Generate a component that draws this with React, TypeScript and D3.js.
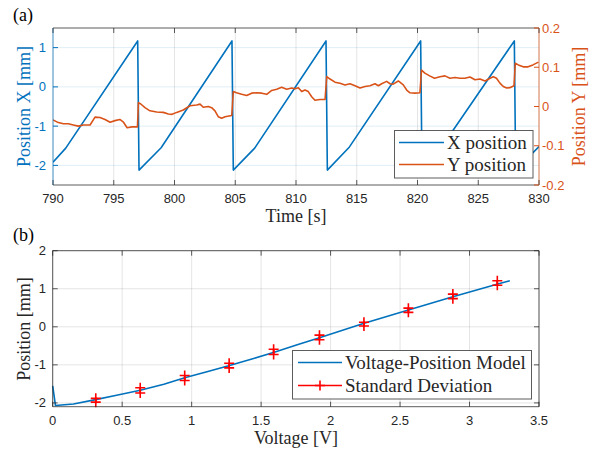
import React, { useRef, useEffect } from 'react';
import * as d3 from 'd3';

// ---- panel (a): time series
const timeTicks = [790, 795, 800, 805, 810, 815, 820, 825, 830];
const posXTicks = [-2, -1, 0, 1];
const posYTicks = [-0.2, -0.1, 0, 0.1, 0.2];

// X position: sawtooth vertices [s], [mm]
const xPosTime = [790, 791.05, 796.97, 797.08, 798.9, 804.73, 804.84, 806.6, 812.47, 812.58, 814.4, 820.26, 820.37, 821.9, 827.97, 828.08, 830];
const xPosValue = [-1.92, -1.56, 1.17, -2.12, -1.55, 1.17, -2.12, -1.56, 1.17, -2.12, -1.53, 1.17, -2.12, -1.57, 1.17, -2.12, -1.52];

// Y position [s], [mm]
const yPosTime = [
  790, 790.44, 790.85, 791.26, 791.67, 792.08, 792.5, 793.05, 793.46, 793.87, 794.28, 794.7, 795.1, 795.5, 795.8, 796.1, 796.5, 796.95,
  797.03, 797.2, 797.57, 797.98, 798.53, 799.08, 799.49, 799.8, 800.18, 800.72, 801.28, 801.82, 802.1, 802.37, 802.78, 803.06, 803.33, 803.6, 803.88, 804.16, 804.71,
  804.84, 805.1, 805.53, 805.94, 806.35, 806.76, 807.18, 807.59, 808.0, 808.41, 808.82, 809.23, 809.65, 809.92, 810.19, 810.47, 810.74, 811.01, 811.29, 811.56, 811.98, 812.39,
  812.53, 812.8, 813.21, 813.62, 814.03, 814.44, 814.86, 815.27, 815.68, 816.09, 816.5, 816.78, 817.05, 817.46, 817.74, 818.0, 818.42, 818.83, 819.11, 819.38, 819.8, 820.2,
  820.33, 820.6, 821.0, 821.4, 821.85, 822.26, 822.67, 823.09, 823.5, 823.9, 824.32, 824.73, 825.14, 825.56, 825.97, 826.24, 826.5, 826.8, 827.06, 827.34, 827.6, 827.94,
  828.05, 828.3, 828.7, 829.1, 829.5, 829.95,
];
const yPosValue = [
  -0.034, -0.041, -0.044, -0.044, -0.047, -0.05, -0.047, -0.047, -0.027, -0.028, -0.033, -0.04, -0.036, -0.033, -0.04, -0.054, -0.052, -0.052,
  0.01, 0.007, -0.003, -0.011, -0.014, -0.015, -0.019, -0.02, -0.015, -0.009, 0.002, 0.004, 0.006, -0.002, 0.0, -0.003, -0.011, -0.026, -0.03, -0.026, -0.023,
  0.038, 0.035, 0.031, 0.028, 0.034, 0.035, 0.034, 0.031, 0.041, 0.044, 0.049, 0.044, 0.047, 0.045, 0.048, 0.038, 0.042, 0.038, 0.025, 0.016, 0.018, 0.018,
  0.076, 0.07, 0.062, 0.059, 0.055, 0.058, 0.053, 0.047, 0.051, 0.053, 0.058, 0.053, 0.058, 0.064, 0.058, 0.057, 0.065, 0.055, 0.042, 0.035, 0.034, 0.035,
  0.093, 0.085, 0.078, 0.072, 0.076, 0.078, 0.072, 0.074, 0.072, 0.072, 0.075, 0.068, 0.07, 0.065, 0.072, 0.076, 0.072, 0.059, 0.051, 0.047, 0.048, 0.053,
  0.11, 0.106, 0.101, 0.101, 0.106, 0.113,
];

// ---- panel (b): voltage-position model
const voltTicks = [0, 0.5, 1, 1.5, 2, 2.5, 3, 3.5];
const posTicks = [-2, -1, 0, 1, 2];

const modelVoltage = [0, 0.02, 0.15, 0.3, 0.46, 0.63, 0.8, 0.95, 1.11, 1.26, 1.44, 1.6, 1.76, 1.92, 2.23, 2.56, 2.88, 3.21, 3.29];
const modelPosition = [-1.55, -2.07, -2.03, -1.92, -1.8, -1.67, -1.51, -1.34, -1.18, -1.03, -0.84, -0.66, -0.47, -0.29, 0.08, 0.44, 0.79, 1.13, 1.21];

const stdVoltage = [0.31, 0.63, 0.95, 1.27, 1.59, 1.92, 2.24, 2.56, 2.88, 3.2];
const stdUpper = [-1.88, -1.6, -1.28, -0.96, -0.59, -0.22, 0.12, 0.49, 0.86, 1.21];
const stdLower = [-1.98, -1.74, -1.41, -1.08, -0.73, -0.34, 0.02, 0.38, 0.74, 1.09];

const BLUE = '#0072BD';
const ORANGE = '#D95319';
const RED = '#FF0000';
const DARK = '#262626';
const SANS = '"Liberation Sans", Arial, Helvetica, sans-serif';
const SERIF = '"Liberation Serif", "Times New Roman", serif';

const App: React.FC = () => {
  const svgRef = useRef<SVGSVGElement | null>(null);

  useEffect(() => {
    if (!svgRef.current) return;
    const svg = d3.select(svgRef.current);
    svg.selectAll('*').remove();

    const fmt = (d: number) => String(d);

    // ================= panel (a) =================
    const a = { left: 53, right: 539, top: 28, bottom: 185 };
    const xT = d3.scaleLinear().domain([790, 830]).range([a.left, a.right]);
    const yL = d3.scaleLinear().domain([-2.5, 1.5]).range([a.bottom, a.top]);
    const yR = d3.scaleLinear().domain([-0.2, 0.2]).range([a.bottom, a.top]);

    const ga = svg.append('g');

    ga.append('rect')
      .attr('x', a.left).attr('y', a.top)
      .attr('width', a.right - a.left).attr('height', a.bottom - a.top)
      .attr('fill', '#fff');

    ga.selectAll('.vgrid')
      .data(timeTicks)
      .enter().append('line')
      .attr('x1', d => xT(d)).attr('x2', d => xT(d))
      .attr('y1', a.top).attr('y2', a.bottom)
      .attr('stroke', DARK).attr('stroke-opacity', 0.12).attr('stroke-width', 1);

    ga.selectAll('.hgrid')
      .data(posXTicks)
      .enter().append('line')
      .attr('x1', a.left).attr('x2', a.right)
      .attr('y1', d => yL(d)).attr('y2', d => yL(d))
      .attr('stroke', BLUE).attr('stroke-opacity', 0.12).attr('stroke-width', 1);

    const clipA = svg.append('clipPath').attr('id', 'clipA');
    clipA.append('rect')
      .attr('x', a.left).attr('y', a.top)
      .attr('width', a.right - a.left).attr('height', a.bottom - a.top);

    const lineX = d3.line<number>()
      .x((_, i) => xT(xPosTime[i]))
      .y(d => yL(d));
    ga.append('path')
      .datum(xPosValue)
      .attr('d', lineX)
      .attr('clip-path', 'url(#clipA)')
      .attr('fill', 'none').attr('stroke', BLUE).attr('stroke-width', 1.6)
      .attr('stroke-linejoin', 'round');

    const lineY = d3.line<number>()
      .x((_, i) => xT(yPosTime[i]))
      .y(d => yR(d));
    ga.append('path')
      .datum(yPosValue)
      .attr('d', lineY)
      .attr('clip-path', 'url(#clipA)')
      .attr('fill', 'none').attr('stroke', ORANGE).attr('stroke-width', 1.6)
      .attr('stroke-linejoin', 'round');

    // box
    ga.append('line').attr('x1', a.left).attr('x2', a.right).attr('y1', a.bottom).attr('y2', a.bottom)
      .attr('stroke', DARK).attr('stroke-opacity', 0.75);
    ga.append('line').attr('x1', a.left).attr('x2', a.right).attr('y1', a.top).attr('y2', a.top)
      .attr('stroke', DARK).attr('stroke-opacity', 0.75);
    ga.append('line').attr('x1', a.left).attr('x2', a.left).attr('y1', a.top).attr('y2', a.bottom)
      .attr('stroke', BLUE).attr('stroke-opacity', 0.7);
    ga.append('line').attr('x1', a.right).attr('x2', a.right).attr('y1', a.top).attr('y2', a.bottom)
      .attr('stroke', ORANGE).attr('stroke-opacity', 0.7);

    // x ticks
    timeTicks.forEach(t => {
      ga.append('line').attr('x1', xT(t)).attr('x2', xT(t)).attr('y1', a.bottom).attr('y2', a.bottom - 5)
        .attr('stroke', DARK).attr('stroke-opacity', 0.75);
      ga.append('line').attr('x1', xT(t)).attr('x2', xT(t)).attr('y1', a.top).attr('y2', a.top + 5)
        .attr('stroke', DARK).attr('stroke-opacity', 0.75);
    });
    ga.selectAll('.xlab')
      .data(timeTicks)
      .enter().append('text')
      .attr('x', d => xT(d)).attr('y', 203)
      .attr('text-anchor', 'middle')
      .attr('font-family', SANS).attr('font-size', 13).attr('fill', DARK)
      .text(fmt);

    // left ticks
    posXTicks.forEach(t => {
      ga.append('line').attr('x1', a.left).attr('x2', a.left + 5).attr('y1', yL(t)).attr('y2', yL(t))
        .attr('stroke', BLUE);
    });
    ga.selectAll('.ylab')
      .data(posXTicks)
      .enter().append('text')
      .attr('x', 46).attr('y', d => yL(d) + 4.5)
      .attr('text-anchor', 'end')
      .attr('font-family', SANS).attr('font-size', 13).attr('fill', BLUE)
      .text(fmt);

    // right ticks
    posYTicks.forEach(t => {
      ga.append('line').attr('x1', a.right).attr('x2', a.right - 5).attr('y1', yR(t)).attr('y2', yR(t))
        .attr('stroke', ORANGE);
    });
    ga.selectAll('.yrlab')
      .data(posYTicks)
      .enter().append('text')
      .attr('x', 542).attr('y', d => yR(d) + 4.5)
      .attr('text-anchor', 'start')
      .attr('font-family', SANS).attr('font-size', 13).attr('fill', ORANGE)
      .text(fmt);

    // labels
    ga.append('text')
      .attr('transform', 'translate(29.5,106.5) rotate(-90)')
      .attr('text-anchor', 'middle')
      .attr('font-family', SERIF).attr('font-size', 18).attr('fill', BLUE)
      .text('Position X [mm]');
    ga.append('text')
      .attr('transform', 'translate(584.5,106.5) rotate(-90)')
      .attr('text-anchor', 'middle')
      .attr('font-family', SERIF).attr('font-size', 18).attr('fill', ORANGE)
      .text('Position Y [mm]');
    ga.append('text')
      .attr('x', 296).attr('y', 222)
      .attr('text-anchor', 'middle')
      .attr('font-family', SERIF).attr('font-size', 18).attr('fill', DARK)
      .text('Time [s]');
    ga.append('text')
      .attr('x', 13).attr('y', 21)
      .attr('font-family', SERIF).attr('font-size', 18).attr('fill', '#000')
      .text('(a)');

    // legend (a)
    const la = ga.append('g');
    la.append('rect')
      .attr('x', 394.5).attr('y', 130.5).attr('width', 138.5).attr('height', 47.5)
      .attr('fill', '#fff').attr('stroke', DARK).attr('stroke-opacity', 0.75);
    [
      { label: 'X position', color: BLUE, y: 142.5 },
      { label: 'Y position', color: ORANGE, y: 164.5 },
    ].forEach(item => {
      la.append('line').attr('x1', 399).attr('x2', 444).attr('y1', item.y).attr('y2', item.y)
        .attr('stroke', item.color).attr('stroke-width', 1.6);
      la.append('text').attr('x', 447).attr('y', item.y + 6)
        .attr('font-family', SERIF).attr('font-size', 19).attr('fill', DARK)
        .text(item.label);
    });

    // ================= panel (b) =================
    const b = { left: 52.7, right: 539, top: 250.7, bottom: 406.7 };
    const xV = d3.scaleLinear().domain([0, 3.5]).range([b.left, b.right]);
    const yP = d3.scaleLinear().domain([-2.1, 2]).range([b.bottom, b.top]);

    const gb = svg.append('g');

    gb.selectAll('.vgrid')
      .data(voltTicks)
      .enter().append('line')
      .attr('x1', d => xV(d)).attr('x2', d => xV(d))
      .attr('y1', b.top).attr('y2', b.bottom)
      .attr('stroke', DARK).attr('stroke-opacity', 0.12);
    gb.selectAll('.hgrid')
      .data(posTicks)
      .enter().append('line')
      .attr('x1', b.left).attr('x2', b.right)
      .attr('y1', d => yP(d)).attr('y2', d => yP(d))
      .attr('stroke', DARK).attr('stroke-opacity', 0.12);

    const lineM = d3.line<number>()
      .x((_, i) => xV(modelVoltage[i]))
      .y(d => yP(d));
    gb.append('path')
      .datum(modelPosition)
      .attr('d', lineM)
      .attr('fill', 'none').attr('stroke', BLUE).attr('stroke-width', 1.6)
      .attr('stroke-linejoin', 'round');

    const plus = (g: d3.Selection<SVGGElement, unknown, null, undefined>, cx: number, cy: number) => {
      g.append('path')
        .attr('d', `M${cx - 5},${cy}H${cx + 5}M${cx},${cy - 5}V${cy + 5}`)
        .attr('stroke', RED).attr('stroke-width', 1.6).attr('fill', 'none');
    };
    const gs = gb.append('g');
    stdVoltage.forEach((v, i) => {
      const cx = xV(v);
      gs.append('line').attr('x1', cx).attr('x2', cx)
        .attr('y1', yP(stdUpper[i])).attr('y2', yP(stdLower[i]))
        .attr('stroke', RED).attr('stroke-width', 1.6);
      plus(gs as any, cx, yP(stdUpper[i]));
      plus(gs as any, cx, yP(stdLower[i]));
    });

    // box
    [[b.left, b.bottom, b.right, b.bottom], [b.left, b.top, b.right, b.top],
     [b.left, b.top, b.left, b.bottom], [b.right, b.top, b.right, b.bottom]].forEach(([x1, y1, x2, y2]) => {
      gb.append('line').attr('x1', x1).attr('y1', y1).attr('x2', x2).attr('y2', y2)
        .attr('stroke', DARK).attr('stroke-opacity', 0.75);
    });
    voltTicks.forEach(t => {
      gb.append('line').attr('x1', xV(t)).attr('x2', xV(t)).attr('y1', b.bottom).attr('y2', b.bottom - 5)
        .attr('stroke', DARK).attr('stroke-opacity', 0.75);
      gb.append('line').attr('x1', xV(t)).attr('x2', xV(t)).attr('y1', b.top).attr('y2', b.top + 5)
        .attr('stroke', DARK).attr('stroke-opacity', 0.75);
    });
    posTicks.forEach(t => {
      gb.append('line').attr('x1', b.left).attr('x2', b.left + 5).attr('y1', yP(t)).attr('y2', yP(t))
        .attr('stroke', DARK).attr('stroke-opacity', 0.75);
      gb.append('line').attr('x1', b.right).attr('x2', b.right - 5).attr('y1', yP(t)).attr('y2', yP(t))
        .attr('stroke', DARK).attr('stroke-opacity', 0.75);
    });
    gb.selectAll('.xlab')
      .data(voltTicks)
      .enter().append('text')
      .attr('x', d => xV(d)).attr('y', 425)
      .attr('text-anchor', 'middle')
      .attr('font-family', SANS).attr('font-size', 13).attr('fill', DARK)
      .text(fmt);
    gb.selectAll('.ylab')
      .data(posTicks)
      .enter().append('text')
      .attr('x', 46).attr('y', d => yP(d) + 4.5)
      .attr('text-anchor', 'end')
      .attr('font-family', SANS).attr('font-size', 13).attr('fill', DARK)
      .text(fmt);

    gb.append('text')
      .attr('transform', 'translate(30,329) rotate(-90)')
      .attr('text-anchor', 'middle')
      .attr('font-family', SERIF).attr('font-size', 18).attr('fill', DARK)
      .text('Position [mm]');
    gb.append('text')
      .attr('x', 296).attr('y', 444)
      .attr('text-anchor', 'middle')
      .attr('font-family', SERIF).attr('font-size', 18).attr('fill', DARK)
      .text('Voltage [V]');
    gb.append('text')
      .attr('x', 13).attr('y', 241)
      .attr('font-family', SERIF).attr('font-size', 18).attr('fill', '#000')
      .text('(b)');

    // legend (b)
    const lb = gb.append('g');
    lb.append('rect')
      .attr('x', 292.5).attr('y', 350.5).attr('width', 239).attr('height', 48.5)
      .attr('fill', '#fff').attr('stroke', DARK).attr('stroke-opacity', 0.75);
    lb.append('line').attr('x1', 298).attr('x2', 342).attr('y1', 362.5).attr('y2', 362.5)
      .attr('stroke', BLUE).attr('stroke-width', 1.6);
    lb.append('text').attr('x', 345).attr('y', 368.5)
      .attr('font-family', SERIF).attr('font-size', 19).attr('fill', DARK)
      .text('Voltage-Position Model');
    lb.append('line').attr('x1', 298).attr('x2', 342).attr('y1', 385.5).attr('y2', 385.5)
      .attr('stroke', RED).attr('stroke-width', 1.6);
    plus(lb as any, 320, 385.5);
    lb.append('text').attr('x', 345).attr('y', 391.5)
      .attr('font-family', SERIF).attr('font-size', 19).attr('fill', DARK)
      .text('Standard Deviation');
  }, []);

  return (
    <div style={{ position: 'absolute', left: 0, top: 0, width: 602, height: 455, background: '#fff' }}>
      <svg ref={svgRef} width={602} height={455} style={{ display: 'block' }}></svg>
    </div>
  );
};

export default App;
